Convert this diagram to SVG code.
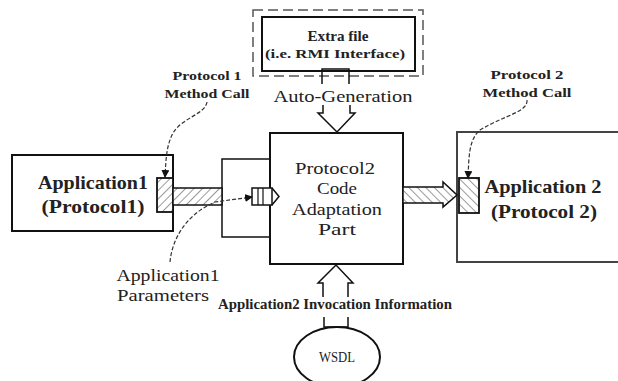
<svg xmlns="http://www.w3.org/2000/svg" width="618" height="381" viewBox="0 0 618 381">
<defs>
<style>
.box{fill:#fff;stroke:#111;stroke-width:2}
.thin{fill:none;stroke:#111;stroke-width:1.5}
.dash{fill:none;stroke:#333;stroke-width:1.2;stroke-dasharray:4 2}
.lbl{font-family:"Liberation Serif",serif;font-weight:bold;fill:#222;text-anchor:middle}
.reg{font-family:"Liberation Serif",serif;fill:#222;text-anchor:middle}
</style>
<pattern id="h1" width="6" height="6" patternUnits="userSpaceOnUse" patternTransform="rotate(45)">
<rect width="6" height="6" fill="#fff"/><line x1="0" y1="0" x2="0" y2="6" stroke="#555" stroke-width="1.2"/>
</pattern>
<pattern id="h2" width="6" height="6" patternUnits="userSpaceOnUse" patternTransform="rotate(-45)">
<rect width="6" height="6" fill="#fff"/><line x1="0" y1="0" x2="0" y2="6" stroke="#555" stroke-width="1.2"/>
</pattern>
<marker id="ah" markerWidth="8" markerHeight="8" refX="7" refY="4" orient="auto" markerUnits="userSpaceOnUse">
<path d="M0,0 L8,4 L0,8 z" fill="#111"/>
</marker>
</defs>
<rect width="618" height="381" fill="#fff"/>

<g id="extra">
<rect x="253" y="10" width="170" height="66" fill="none" stroke="#555" stroke-width="1.5" stroke-dasharray="10 5"/>
<rect x="262" y="17" width="153" height="54" class="box" stroke-width="2.5"/>
<text x="338" y="41" class="lbl" font-size="14" textLength="61" lengthAdjust="spacingAndGlyphs">Extra file</text>
<text x="335" y="58" class="lbl" font-size="13" textLength="140" lengthAdjust="spacingAndGlyphs">(i.e. RMI Interface)</text>
<path d="M322,84 V69 H349 V84" class="thin" fill="#fff"/>
</g>

<g id="app1">
<rect x="12" y="155" width="161" height="76" class="box" stroke="#333"/>
<text x="93" y="189" class="lbl" font-size="19" textLength="110" lengthAdjust="spacingAndGlyphs">Application1</text>
<text x="93" y="213" class="lbl" font-size="19" textLength="103" lengthAdjust="spacingAndGlyphs">(Protocol1)</text>
<rect x="157" y="178" width="16" height="34" fill="url(#h1)" stroke="#111" stroke-width="1.8"/>
</g>

<g id="adapt">
<path d="M270,159 H222 V237 H270" class="thin" stroke-width="2"/>
<rect x="270" y="133" width="133" height="131" class="box"/>
<text x="335" y="174" class="reg" font-size="17" textLength="80" lengthAdjust="spacingAndGlyphs">Protocol2</text>
<text x="337" y="194" class="reg" font-size="17" textLength="40" lengthAdjust="spacingAndGlyphs">Code</text>
<text x="337" y="215" class="reg" font-size="17" textLength="90" lengthAdjust="spacingAndGlyphs">Adaptation</text>
<text x="337" y="235" class="reg" font-size="17" textLength="38" lengthAdjust="spacingAndGlyphs">Part</text>
<rect x="266" y="189" width="8" height="16" fill="#fff"/>
<rect x="252" y="188" width="20" height="17" fill="#fff" stroke="#111" stroke-width="1.5"/>
<line x1="258" y1="188" x2="258" y2="205" stroke="#111" stroke-width="1.2"/>
<line x1="263" y1="188" x2="263" y2="205" stroke="#111" stroke-width="1.2"/>
<path d="M272,188 L279,196.5 L272,205" class="thin" stroke-width="1.2"/>
</g>

<g id="app2">
<rect x="457" y="132" width="170" height="130" fill="#fff" stroke="#444" stroke-width="2"/>
<text x="543" y="193" class="lbl" font-size="19" textLength="117" lengthAdjust="spacingAndGlyphs">Application 2</text>
<text x="544" y="218" class="lbl" font-size="19" textLength="106" lengthAdjust="spacingAndGlyphs">(Protocol 2)</text>
<rect x="459" y="178" width="20" height="35" fill="url(#h2)" stroke="#111" stroke-width="1.8"/>
</g>

<g id="wsdl">
<ellipse cx="337" cy="357" rx="43" ry="30" fill="#fff" stroke="#111" stroke-width="2"/>
<text x="337" y="362" class="reg" font-size="14" textLength="36" lengthAdjust="spacingAndGlyphs">WSDL</text>
</g>

<g id="connectors">
<rect x="173" y="188" width="49" height="17" fill="url(#h1)" stroke="#111" stroke-width="1.5"/>
<path d="M403,187 H443 V182 L457,195 L443,207 V203 H403 Z" fill="url(#h2)" stroke="#111" stroke-width="1.5"/>
<path d="M323,105 V113 H318 L337,132 L355,113 H350 V105" class="thin"/>
<path d="M323,297 V283 H318 L336,265 L353,283 H348 V297" class="thin"/>
<path d="M324,317 V327 H348 V317" class="thin" stroke-width="2"/>
<path d="M207,102 C205,115 180,118 172,135 C166,148 166,160 165,177" class="dash" marker-end="url(#ah)"/>
<path d="M527,100 C528,112 505,115 480,130 C468,140 469,160 468,178" class="dash" marker-end="url(#ah)"/>
<path d="M170,262 C172,240 185,215 215,202 L252,197" class="dash" marker-end="url(#ah)"/>
</g>

<g id="labels">
<text x="207" y="80" class="lbl" font-size="13" textLength="69" lengthAdjust="spacingAndGlyphs">Protocol 1</text>
<text x="207" y="98" class="lbl" font-size="13" textLength="85" lengthAdjust="spacingAndGlyphs">Method Call</text>
<text x="527" y="79" class="lbl" font-size="13" textLength="73" lengthAdjust="spacingAndGlyphs">Protocol 2</text>
<text x="527" y="97" class="lbl" font-size="13" textLength="89" lengthAdjust="spacingAndGlyphs">Method Call</text>
<text x="343" y="102" class="reg" font-size="17" textLength="139" lengthAdjust="spacingAndGlyphs">Auto-Generation</text>
<text x="168" y="281" class="reg" font-size="17" textLength="103" lengthAdjust="spacingAndGlyphs">Application1</text>
<text x="163" y="301" class="reg" font-size="17" textLength="92" lengthAdjust="spacingAndGlyphs">Parameters</text>
<text x="335" y="309" class="lbl" font-size="14" textLength="234" lengthAdjust="spacingAndGlyphs">Application2 Invocation Information</text>
</g>
</svg>
